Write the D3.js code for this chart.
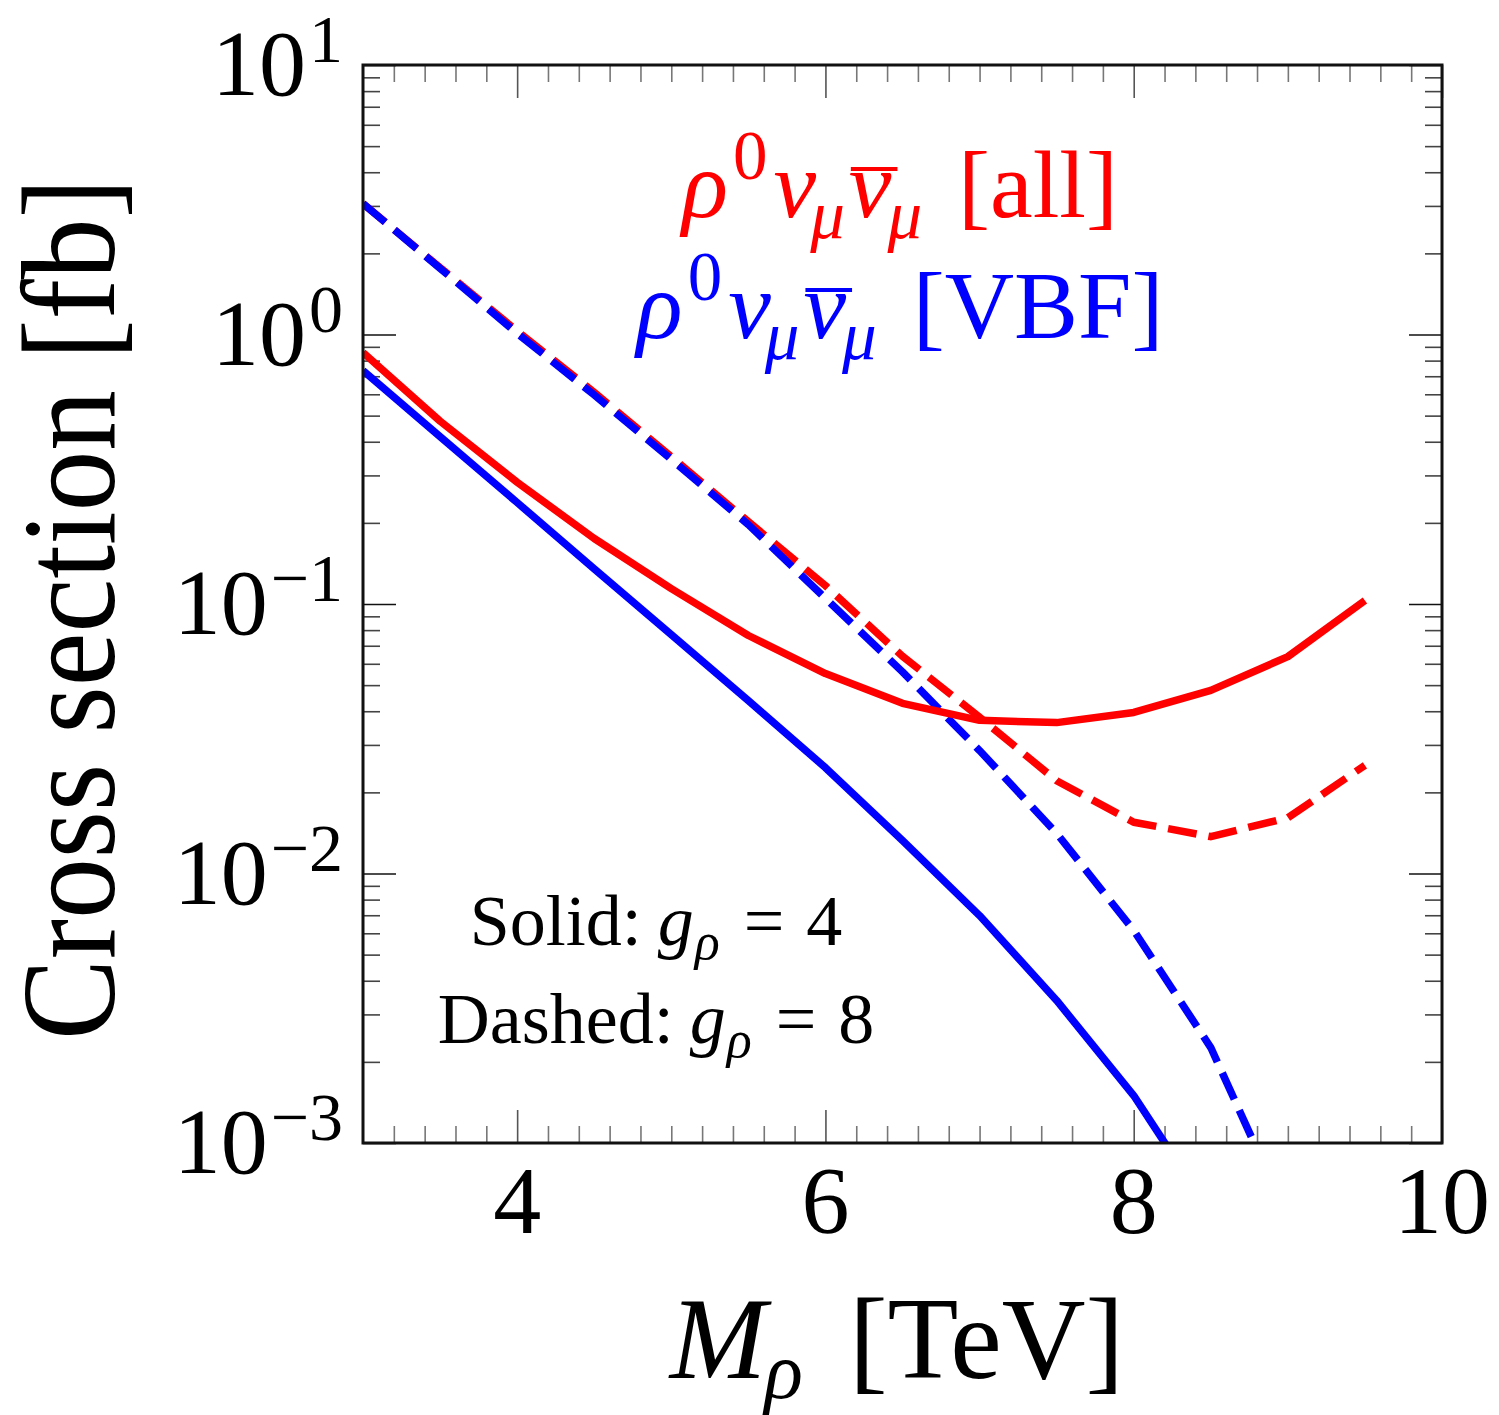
<!DOCTYPE html>
<html><head><meta charset="utf-8">
<script src="https://cdn.jsdelivr.net/npm/d3@7"></script>
<style>body{margin:0;background:#fff} svg{display:block}</style>
</head><body>
<svg id="c" width="1499" height="1415"></svg>
<script>
// ---- data ----
const mass  = [3, 3.5, 4, 4.5, 5, 5.5, 6, 6.5, 7, 7.5, 8, 8.5, 9, 9.5];
const allG4 = [0.857, 0.477, 0.283, 0.175, 0.114, 0.0764, 0.0552, 0.0428, 0.0370, 0.0363, 0.0396, 0.0478, 0.0638, 0.103];
const allG8 = [3.06, 1.77, 1.03, 0.610, 0.352, 0.202, 0.117, 0.064, 0.0380, 0.0221, 0.0155, 0.0137, 0.0161, 0.0252];
const vbfG4 = [0.735, 0.418, 0.238, 0.135, 0.077, 0.0438, 0.0247, 0.01325, 0.00698, 0.00338, 0.00150, 0.00055];
const vbfG8 = [3.06, 1.76, 1.01, 0.597, 0.344, 0.197, 0.105, 0.056, 0.0286, 0.0141, 0.00615, 0.00226, 0.00053];
const xTickValues = [4, 6, 8, 10];
const xTickLabels = ["4", "6", "8", "10"];
const yTickExps = [1, 0, -1, -2, -3];
const yTickSup = ["1", "0", "\u22121", "\u22122", "\u22123"];

// ---- setup ----
const FONT = "'Liberation Serif','Times New Roman',serif";
const svg = d3.select("#c").style("font-family", FONT);
const L = 363, R = 1442, T = 65, B = 1143;
const x = d3.scaleLinear().domain([3, 10]).range([L, R]);
const y = d3.scaleLog().domain([1e-3, 10]).range([B, T]);

svg.append("defs").append("clipPath").attr("id", "clip")
  .append("rect").attr("x", L).attr("y", T).attr("width", R - L).attr("height", B - T);

// ---- ticks ----
const minorX = d3.range(16, 50).filter(i => i % 10 !== 0).map(i => i / 5);
const minorY = [];
for (let e = -3; e <= 0; e++) for (let k = 2; k <= 9; k++) minorY.push(k * Math.pow(10, e));
const majorY = yTickExps.map(e => Math.pow(10, e));

function styleAxis(g, color) {
  g.select(".domain").remove();
  g.selectAll(".tick text").remove();
  g.selectAll(".tick line").attr("stroke", color).attr("stroke-width", 1.6);
}
const axes = [
  [d3.axisBottom(x).tickValues(minorX), `translate(0,${B})`, 17, "#777"],
  [d3.axisBottom(x).tickValues(xTickValues), `translate(0,${B})`, 33, "#555"],
  [d3.axisTop(x).tickValues(minorX), `translate(0,${T})`, 17, "#777"],
  [d3.axisTop(x).tickValues(xTickValues), `translate(0,${T})`, 33, "#555"],
  [d3.axisLeft(y).tickValues(minorY), `translate(${L},0)`, 17, "#444"],
  [d3.axisLeft(y).tickValues(majorY), `translate(${L},0)`, 33, "#111"],
  [d3.axisRight(y).tickValues(minorY), `translate(${R},0)`, 17, "#444"],
  [d3.axisRight(y).tickValues(majorY), `translate(${R},0)`, 33, "#111"],
];
axes.forEach(([ax, tr, len, col]) => {
  const g = svg.append("g").attr("transform", tr).call(ax.tickSize(-len).tickFormat(""));
  styleAxis(g, col);
});

// ---- lines ----
const series = [
  {vals: vbfG4, color: "#0000ff", dash: null},
  {vals: allG8, color: "#ff0000", dash: "29,12"},
  {vals: vbfG8, color: "#0000ff", dash: "29,12"},
  {vals: allG4, color: "#ff0000", dash: null},
];
const line = d3.line().x(d => x(d[0])).y(d => y(d[1]));
const lg = svg.append("g").attr("clip-path", "url(#clip)");
series.forEach(s => {
  lg.append("path").datum(s.vals.map((v, i) => [mass[i], v]))
    .attr("d", line).attr("fill", "none").attr("stroke", s.color)
    .attr("stroke-width", 7.5).attr("stroke-linejoin", "round")
    .attr("stroke-dasharray", s.dash);
});

// ---- frame ----
svg.append("rect").attr("x", L).attr("y", T).attr("width", R - L).attr("height", B - T)
  .attr("fill", "none").attr("stroke", "#111").attr("stroke-width", 3);

// ---- rich text helper ----
function rich(parent, px, py, runs, anchor, fill) {
  const g = parent.append("g");
  let cx = 0;
  const overs = [];
  runs.forEach(r => {
    cx += (r.gap || 0);
    const t = g.append("text").attr("x", cx).attr("y", r.dy || 0)
      .attr("font-size", r.size).attr("font-style", r.italic ? "italic" : "normal")
      .attr("fill", fill).text(r.t);
    const w = t.node().getComputedTextLength();
    if (r.over) overs.push([cx, w, r.size]);
    cx += w;
  });
  overs.forEach(([ox, w, s]) => {
    g.append("line").attr("x1", ox + 2).attr("x2", ox + w + 6)
      .attr("y1", -0.5 * s).attr("y2", -0.5 * s)
      .attr("stroke", fill).attr("stroke-width", 4);
  });
  const shift = anchor === "middle" ? -cx / 2 : anchor === "end" ? -cx : 0;
  g.attr("transform", `translate(${px + shift},${py})`);
  return g;
}

// ---- tick labels ----
xTickValues.forEach((v, i) => {
  svg.append("text").attr("x", x(v)).attr("y", B + 90).attr("text-anchor", "middle")
    .attr("font-size", 96).attr("fill", "#000").text(xTickLabels[i]);
});
yTickExps.forEach((e, i) => {
  rich(svg, 343, y(Math.pow(10, e)) + 30, [
    {t: "10", size: 94},
    {t: yTickSup[i], size: 68, dy: -33, gap: 3}
  ], "end", "#000");
});

// ---- axis titles ----
svg.append("text").attr("transform", "translate(114,609) rotate(-90)")
  .attr("text-anchor", "middle").attr("font-size", 133)
  .attr("textLength", 862).attr("lengthAdjust", "spacingAndGlyphs")
  .attr("fill", "#000").text("Cross section [fb]");

rich(svg, 897, 1378, [
  {t: "M", size: 116, italic: true},
  {t: "\u03c1", size: 80, italic: true, dy: 20, gap: -2},
  {t: "[TeV]", size: 116, gap: 46}
], "middle", "#000");

// ---- legend labels ----
function procRuns(tag) {
  return [
    {t: "\u03c1", size: 96, italic: true},
    {t: "0", size: 69, dy: -38, gap: 5},
    {t: "\u03bd", size: 96, italic: true, gap: 6},
    {t: "\u03bc", size: 69, italic: true, dy: 21, gap: -6},
    {t: "\u03bd", size: 96, italic: true, gap: 4, over: true},
    {t: "\u03bc", size: 69, italic: true, dy: 21, gap: -4},
    {t: tag, size: 96, gap: 36}
  ];
}
rich(svg, 900, 217, procRuns("[all]"), "middle", "#ff0000");
rich(svg, 900, 338, procRuns("[VBF]"), "middle", "#0000ff");

// ---- annotation ----
function gRuns(label, val) {
  return [
    {t: label, size: 72},
    {t: "g", size: 72, italic: true, gap: 16},
    {t: "\u03c1", size: 52, italic: true, dy: 14, gap: 1},
    {t: "=", size: 72, gap: 24},
    {t: val, size: 72, gap: 22}
  ];
}
rich(svg, 656, 945, gRuns("Solid:", "4"), "middle", "#000");
rich(svg, 656, 1043, gRuns("Dashed:", "8"), "middle", "#000");
</script>
</body></html>
